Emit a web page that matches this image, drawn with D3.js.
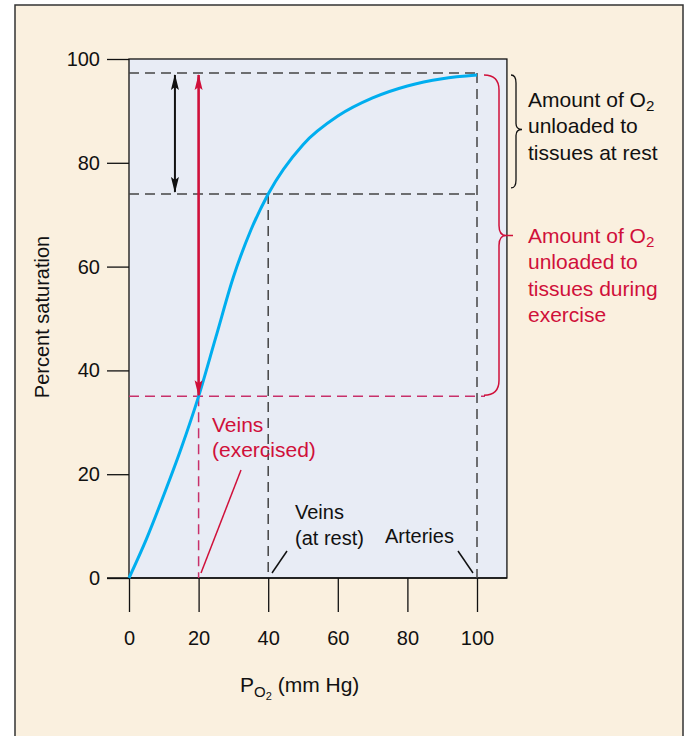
<!DOCTYPE html>
<html><head><meta charset="utf-8">
<script src="https://cdn.jsdelivr.net/npm/d3@7"></script>
<style>
body{margin:0;background:#fff;}
text{font-family:"Liberation Sans",Arial,Helvetica,sans-serif;}
</style>
</head><body><svg id="c" width="690" height="736"></svg>
<script>
// ---- data ----
const xTicks = [0, 20, 40, 60, 80, 100];
const yTicks = [0, 20, 40, 60, 80, 100];
const po2 =        [0, 5,   10, 15, 20, 25,   30, 35, 40, 50,   60, 70,   80,   90,   100];
const saturation = [0, 7.5, 16, 25, 35, 46.5, 58, 67, 74, 83.5, 89, 92.5, 94.8, 96.2, 96.9];
const arterial = {po2: 100, sat: 97.3};
const veinsRest = {po2: 40, sat: 74};
const veinsExercise = {po2: 20, sat: 35};
const xPanelMax = 108.6;
const restArrowPO2 = 13.2;

const RED = "#d0103a", BLUE = "#00aeef", DASH = "#444";

const svg = d3.select("#c");
// outer frame
svg.append("rect").attr("x", 15).attr("y", 5).attr("width", 668).attr("height", 745)
  .attr("fill", "#faf0df").attr("stroke", "#333").attr("stroke-width", 1.5);

const x = d3.scaleLinear().domain([0, 100]).range([129, 477]);
const y = d3.scaleLinear().domain([0, 100]).range([578, 59]);

// plot panel
svg.append("rect").attr("x", x(0)).attr("y", y(100))
  .attr("width", x(xPanelMax) - x(0)).attr("height", y(0) - y(100))
  .attr("fill", "#e8ecf5").attr("stroke", "#111").attr("stroke-width", 1.3);

// axes
const yAxis = svg.append("g").attr("transform", `translate(${x(0)},0)`)
  .call(d3.axisLeft(y).tickValues(yTicks).tickSize(22).tickPadding(7));
const xAxis = svg.append("g").attr("transform", `translate(0,${y(0)})`)
  .call(d3.axisBottom(x).tickValues(xTicks).tickSize(34).tickPadding(19));
[yAxis, xAxis].forEach(g => {
  g.select(".domain").remove();
  g.selectAll("line").attr("stroke", "#111").attr("stroke-width", 1.3);
  g.selectAll("text").attr("font-size", 20).attr("fill", "#111")
   .attr("font-family", '"Liberation Sans",Arial,sans-serif');
});
// baseline extended left
svg.append("line").attr("x1", 107).attr("x2", x(xPanelMax)).attr("y1", y(0)).attr("y2", y(0))
  .attr("stroke", "#111").attr("stroke-width", 1.3);

// dashed guides
function dline(x1, y1, x2, y2, col) {
  svg.append("line").attr("x1", x1).attr("y1", y1).attr("x2", x2).attr("y2", y2)
    .attr("stroke", col).attr("stroke-width", 1.5).attr("stroke-dasharray", "10,6");
}
dline(x(0), y(arterial.sat), x(arterial.po2), y(arterial.sat), DASH);
dline(x(arterial.po2), y(arterial.sat), x(arterial.po2), y(0), DASH);
dline(x(0), y(veinsRest.sat), x(arterial.po2), y(veinsRest.sat), DASH);
dline(x(veinsRest.po2), y(veinsRest.sat), x(veinsRest.po2), y(0), DASH);
dline(x(0), y(veinsExercise.sat), 485, y(veinsExercise.sat), "#c8306a");
dline(x(veinsExercise.po2), y(veinsExercise.sat), x(veinsExercise.po2), y(0), "#c8306a");

// curve
const pts = po2.map((p, i) => [p, saturation[i]]);
svg.append("path").datum(pts)
  .attr("d", d3.line().x(d => x(d[0])).y(d => y(d[1])).curve(d3.curveMonotoneX))
  .attr("fill", "none").attr("stroke", BLUE).attr("stroke-width", 3);

// arrow markers
const defs = svg.append("defs");
function marker(id, col) {
  defs.append("marker").attr("id", id).attr("viewBox", "0 0 16 10")
    .attr("refX", 15).attr("refY", 5).attr("markerWidth", 16).attr("markerHeight", 10)
    .attr("markerUnits", "userSpaceOnUse").attr("orient", "auto-start-reverse")
    .append("path").attr("d", "M0,1 L16,5 L0,9 L3,5 Z").attr("fill", col);
}
marker("ab", "#111"); marker("ar", RED);
svg.append("line").attr("x1", x(restArrowPO2)).attr("x2", x(restArrowPO2))
  .attr("y1", y(arterial.sat) + 2).attr("y2", y(veinsRest.sat) - 2)
  .attr("stroke", "#111").attr("stroke-width", 2)
  .attr("marker-start", "url(#ab)").attr("marker-end", "url(#ab)");
svg.append("line").attr("x1", x(veinsExercise.po2)).attr("x2", x(veinsExercise.po2))
  .attr("y1", y(arterial.sat) + 2).attr("y2", y(veinsExercise.sat) - 1)
  .attr("stroke", RED).attr("stroke-width", 2.6)
  .attr("marker-start", "url(#ar)").attr("marker-end", "url(#ar)");

// braces
const bt = y(arterial.sat) + 2, bb = y(veinsRest.sat) - 6, bm = (bt + bb) / 2 - 2;
svg.append("path")
  .attr("d", `M511,${bt} Q516,${bt} 516,${bt + 8} L516,${bm - 6} Q516,${bm} 522,${bm} Q516,${bm} 516,${bm + 6} L516,${bb - 8} Q516,${bb} 511,${bb}`)
  .attr("fill", "none").attr("stroke", "#111").attr("stroke-width", 1.3);
const rt = y(arterial.sat) + 2, rb = y(veinsExercise.sat) - 1, rm = y(66);
svg.append("path")
  .attr("d", `M484,${rt} Q499,${rt} 499,${rt + 15} L499,${rm - 10} Q499,${rm} 506,${rm} L513,${rm} M506,${rm} Q499,${rm} 499,${rm + 10} L499,${rb - 15} Q499,${rb} 484,${rb}`)
  .attr("fill", "none").attr("stroke", RED).attr("stroke-width", 1.5);

// texts
function multi(lines, x0, y0, lh, col, size) {
  lines.forEach((ln, i) => {
    const t = svg.append("text").attr("x", x0).attr("y", y0 + i * lh)
      .attr("fill", col).attr("font-size", size);
    if (Array.isArray(ln)) {
      t.append("tspan").text(ln[0]);
      t.append("tspan").attr("font-size", size * 0.72).attr("dy", 4).text(ln[1]);
    } else t.text(ln);
  });
}
multi([["Amount of O", "2"], "unloaded to", "tissues at rest"], 528, 107, 26.3, "#111", 21);
multi([["Amount of O", "2"], "unloaded to", "tissues during", "exercise"], 528, 243, 26.3, RED, 21);
multi(["Veins", "(exercised)"], 212, 432, 25, RED, 21);
multi(["Veins", "(at rest)"], 295, 519, 26, "#111", 20);
multi(["Arteries"], 385, 543, 26, "#111", 20);

// leader lines
function leader(x1, y1, x2, y2, col) {
  svg.append("line").attr("x1", x1).attr("y1", y1).attr("x2", x2).attr("y2", y2)
    .attr("stroke", col).attr("stroke-width", 1.5);
}
leader(241, 470, 201, 573, RED);
leader(287, 551, 272, 573, "#111");
leader(458, 551, 473, 573, "#111");

// axis titles
svg.append("text").attr("transform", "translate(49,317) rotate(-90)")
  .attr("text-anchor", "middle").attr("font-size", 20).attr("fill", "#111")
  .text("Percent saturation");
const xt = svg.append("text").attr("x", 240).attr("y", 692).attr("font-size", 21).attr("fill", "#111");
xt.append("tspan").text("P");
xt.append("tspan").attr("font-size", 15).attr("dy", 5).text("O");
xt.append("tspan").attr("font-size", 11).attr("dy", 3).text("2");
xt.append("tspan").attr("dy", -8).text(" (mm Hg)");
</script></body></html>
